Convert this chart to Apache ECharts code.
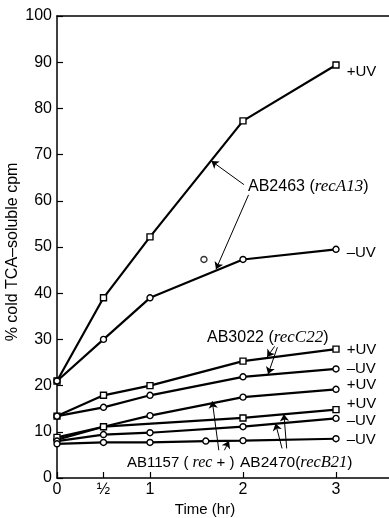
<!DOCTYPE html>
<html>
<head>
<meta charset="utf-8">
<script src="https://cdn.jsdelivr.net/npm/echarts@6/dist/echarts.min.js"></script>
<style>
html,body{margin:0;padding:0;background:#fff;}
#chart{width:389px;height:518px;}
</style>
</head>
<body>
<div id="chart"></div>
<script>
// ---- data ----
const xTicks = [0, 0.5, 1, 2, 3];
const xTickLabels = ['0', '½', '1', '2', '3'];
const times = [0, 0.5, 1, 2, 3];

const recA13_plus = [21, 39, 52.2, 77.3, 89.4];
const recA13_minus = [21, 30, 39, 47.3, 49.5];
const recA13_stray = [[1.58, 47.3]];
const recC22_plus = [13.4, 17.9, 20.0, 25.3, 27.9];
const recC22_minus = [13.4, 15.3, 17.9, 21.9, 23.6];
const recPlus_plus = [8.3, 11.1, 13.5, 17.5, 19.2];
const recB21_plusTimes = [0, 0.5, 2, 3];
const recB21_plus = [8.8, 11.1, 13.0, 14.8];
const recB21_minus = [8.0, 9.4, 9.8, 11.1, 12.9];
const recPlus_minusTimes = [0, 0.5, 1, 1.6, 2, 3];
const recPlus_minus = [7.4, 7.7, 7.7, 8.0, 8.1, 8.5];

// annotation arrows [tail, tip] in data units
const arrows = [
  [[2.01, 63.5], [1.66, 68.6]],
  [[2.06, 61.3], [1.71, 45.2]],
  [[2.34, 28.5], [2.26, 26.2]],
  [[2.37, 28.3], [2.27, 22.5]],
  [[1.74, 6.0], [1.67, 16.6]],
  [[1.80, 6.0], [1.85, 8.0]],
  [[2.47, 6.4], [2.44, 13.8]],
  [[2.42, 6.4], [2.35, 11.8]]
];

const FONT = 'Liberation Sans';
const SERIF = 'Liberation Serif';

function pts(xs, ys) { return xs.map((x, i) => [x, ys[i]]); }

function lineSeries(name, data, symbol, endText, dy) {
  const d = data.map((p, i) => {
    if (i === data.length - 1) {
      return {
        value: p,
        label: {
          show: true, position: 'right', distance: 7, offset: [0, dy],
          formatter: endText, color: '#000', fontFamily: FONT, fontSize: 15
        }
      };
    }
    return p;
  });
  return {
    name: name, type: 'line', data: d, symbol: symbol, symbolSize: 6,
    showAllSymbol: true,
    lineStyle: { color: '#000', width: 2.2 },
    itemStyle: { color: '#fff', borderColor: '#000', borderWidth: 1.4 },
    z: 3, animation: false, silent: true
  };
}

const chart = echarts.init(document.getElementById('chart'), null, { renderer: 'canvas' });

const annStyle = function (t, x, y, fs) {
  return {
    type: 'text', x: x, y: y, z: 10,
    style: {
      text: t, fontFamily: FONT, fontSize: fs, fill: '#000', align: 'left', verticalAlign: 'middle',
      rich: { i: { fontFamily: SERIF, fontStyle: 'italic', fontSize: fs + 1, fill: '#000' } }
    }
  };
};

const option = {
  backgroundColor: '#fff',
  animation: false,
  grid: { left: 57, right: 0, top: 16, bottom: 40, containLabel: false },
  xAxis: [{
    type: 'value', min: 0, max: 3.57,
    axisLine: { show: true, lineStyle: { color: '#000', width: 1.5 } },
    axisTick: { show: true, inside: true, length: 6, customValues: xTicks, lineStyle: { color: '#000', width: 1.2 } },
    axisLabel: {
      show: true, customValues: xTicks, margin: 4, color: '#000', fontFamily: FONT, fontSize: 16,
      formatter: function (v) { const i = xTicks.indexOf(v); return i >= 0 ? xTickLabels[i] : ''; }
    },
    splitLine: { show: false }
  }, {
    type: 'value', position: 'top', min: 0, max: 3.57,
    axisLine: { show: true, onZero: false, lineStyle: { color: '#000', width: 1.5 } },
    axisTick: { show: false }, axisLabel: { show: false }, splitLine: { show: false }
  }],
  yAxis: {
    type: 'value', min: 0, max: 100, interval: 10,
    axisLine: { show: true, lineStyle: { color: '#000', width: 1.5 } },
    axisTick: { show: true, inside: true, length: 6, lineStyle: { color: '#000', width: 1.2 } },
    axisLabel: { margin: 5, color: '#000', fontFamily: FONT, fontSize: 16 },
    splitLine: { show: false }
  },
  graphic: [
    {
      type: 'text', x: 13, y: 252, rotation: Math.PI / 2,
      style: { text: '% cold TCA–soluble cpm', font: '16px "Liberation Sans"', fill: '#000', align: 'center', verticalAlign: 'middle' }
    },
    {
      type: 'text', x: 205, y: 510,
      style: { text: 'Time (hr)', font: '15px "Liberation Sans"', fill: '#000', align: 'center', verticalAlign: 'middle' }
    },
    annStyle('AB2463 ({i|recA13})', 248, 187, 16),
    annStyle('AB3022 ({i|recC22})', 207, 338, 16),
    annStyle('AB1157 ( {i|rec} + )', 127, 463, 15),
    annStyle('AB2470({i|recB21})', 240, 463, 15.5)
  ],
  series: [
    lineSeries('AB2463 +UV', pts(times, recA13_plus), 'rect', '+UV', 7),
    lineSeries('AB2463 -UV', pts(times, recA13_minus), 'circle', '–UV', 4),
    {
      name: 'AB2463 stray', type: 'scatter', data: recA13_stray, symbol: 'circle', symbolSize: 6,
      itemStyle: { color: '#fff', borderColor: '#000', borderWidth: 1.4 }, z: 3, silent: true
    },
    lineSeries('AB3022 +UV', pts(times, recC22_plus), 'rect', '+UV', 1),
    lineSeries('AB3022 -UV', pts(times, recC22_minus), 'circle', '–UV', 0),
    lineSeries('AB1157 +UV', pts(times, recPlus_plus), 'circle', '+UV', -4),
    lineSeries('AB2470 +UV', pts(recB21_plusTimes, recB21_plus), 'rect', '+UV', -6),
    lineSeries('AB2470 -UV', pts(times, recB21_minus), 'circle', '–UV', 2),
    lineSeries('AB1157 -UV', pts(recPlus_minusTimes, recPlus_minus), 'circle', '–UV', 1),
    {
      name: 'arrows', type: 'line', data: [], silent: true, z: 5,
      markLine: {
        silent: true, animation: false,
        symbol: ['none', 'arrow'], symbolSize: 7,
        lineStyle: { color: '#000', width: 1, type: 'solid' },
        label: { show: false },
        emphasis: { disabled: true },
        data: arrows.map(a => [{ coord: a[0] }, { coord: a[1] }])
      }
    }
  ]
};
chart.setOption(option);
</script>
</body>
</html>
